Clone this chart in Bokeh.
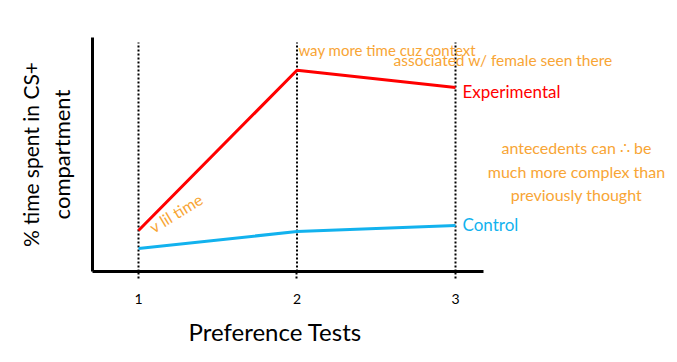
from bokeh.plotting import figure
from bokeh.models import Range1d, FixedTicker, Label, LinearAxis, Title
from bokeh.embed import file_html
from bokeh.resources import INLINE

# ---- data ----
tests = [1, 2, 3]
tick_labels = {1: "1", 2: "2", 3: "3"}
experimental = [17.5, 86.0, 78.6]
control = [9.8, 17.1, 19.7]
series_names = ["Experimental", "Control"]
x_title = "Preference Tests"
y_title = ["% time spent in CS+", "compartment"]
note_context = ["way more time cuz context", "associated w/ female seen there"]
note_low = "v lil time"
note_antecedents = ["antecedents can \u2234 be", "much more complex than", "previously thought"]

FONT = "Lato"
RED = "#FF0000"
BLUE = "#12B2EE"
ORANGE = "#F8A535"

p = figure(width=677, height=362, output_backend="svg", toolbar_location=None,
           x_range=Range1d(0.7098, 4.388), y_range=Range1d(0, 100),
           min_border_left=92, min_border_right=2, min_border_top=37, min_border_bottom=91)
p.outline_line_color = None
p.xgrid.visible = False
p.ygrid.visible = False
p.background_fill_color = "white"
p.border_fill_color = "white"

# x axis
xa = p.xaxis[0]
xa.bounds = (0.7098, 3.177)
xa.ticker = FixedTicker(ticks=tests)
xa.major_label_overrides = tick_labels
xa.axis_line_width = 3
xa.axis_line_color = "black"
xa.major_tick_in = 0
xa.major_tick_out = 7
xa.major_tick_line_width = 2
xa.major_tick_line_dash = "2 2"
xa.minor_tick_line_color = None
xa.major_label_standoff = 15
xa.major_label_text_font = FONT
xa.major_label_text_font_size = "14px"
xa.major_label_text_color = "black"

# x title below, aligned under the drawn axis line
p.add_layout(Title(text=x_title, align="left", offset=96, text_font=FONT,
                   text_font_size="24px", text_font_style="normal",
                   vertical_align="top", text_color="black", standoff=20), "below")

# y axis (inner line carries second title line)
ya = p.yaxis[0]
ya.ticker = FixedTicker(ticks=[])
ya.axis_line_width = 3
ya.axis_line_color = "black"
ya.major_tick_line_color = None
ya.minor_tick_line_color = None
ya.major_label_text_font_size = "0px"
ya.axis_label = y_title[1]
ya.axis_label_text_font = FONT
ya.axis_label_text_font_size = "22px"
ya.axis_label_text_font_style = "normal"
ya.axis_label_text_color = "black"
ya.axis_label_standoff = 18

ya2 = LinearAxis(ticker=FixedTicker(ticks=[]), axis_line_color=None,
                 major_tick_line_color=None, minor_tick_line_color=None,
                 major_label_text_font_size="0px", axis_label=y_title[0],
                 axis_label_text_font=FONT, axis_label_text_font_size="21px",
                 axis_label_text_font_style="normal", axis_label_text_color="black",
                 axis_label_standoff=2)
p.add_layout(ya2, "left")

# vertical dotted guides
p.segment(x0=tests, y0=[0] * 3, x1=tests, y1=[97.9] * 3,
          line_color="black", line_width=2, line_dash="2 2")

# series
p.line(tests, experimental, line_color=RED, line_width=3)
p.line(tests, control, line_color=BLUE, line_width=3)

p.add_layout(Label(x=tests[-1], y=experimental[-1], x_offset=7, y_offset=-4, text=series_names[0],
                   text_font=FONT, text_font_size="17px", text_color=RED,
                   text_baseline="middle", text_align="left"))
p.add_layout(Label(x=tests[-1], y=control[-1], x_offset=7, y_offset=1, text=series_names[1],
                   text_font=FONT, text_font_size="17px", text_color=BLUE,
                   text_baseline="middle", text_align="left"))

# handwritten notes
p.add_layout(Label(x=2.009, y=94.8, text=note_context[0], text_font=FONT,
                   text_font_size="15px", text_color=ORANGE, text_baseline="middle"))
p.add_layout(Label(x=2.609, y=90.2, text=note_context[1], text_font=FONT,
                   text_font_size="15.5px", text_color=ORANGE, text_baseline="middle"))
p.add_layout(Label(x=1.076, y=18.5, text=note_low, text_font=FONT, angle=0.55,
                   text_font_size="16px", text_color=ORANGE, text_baseline="alphabetic"))
for txt, yy in zip(note_antecedents, [53.0, 42.8, 33.0]):
    p.add_layout(Label(x=3.763, y=yy, text=txt, text_font=FONT, text_font_size="16px",
                       text_color=ORANGE, text_baseline="middle", text_align="center"))

open("out.html", "w").write(file_html(p, INLINE))
